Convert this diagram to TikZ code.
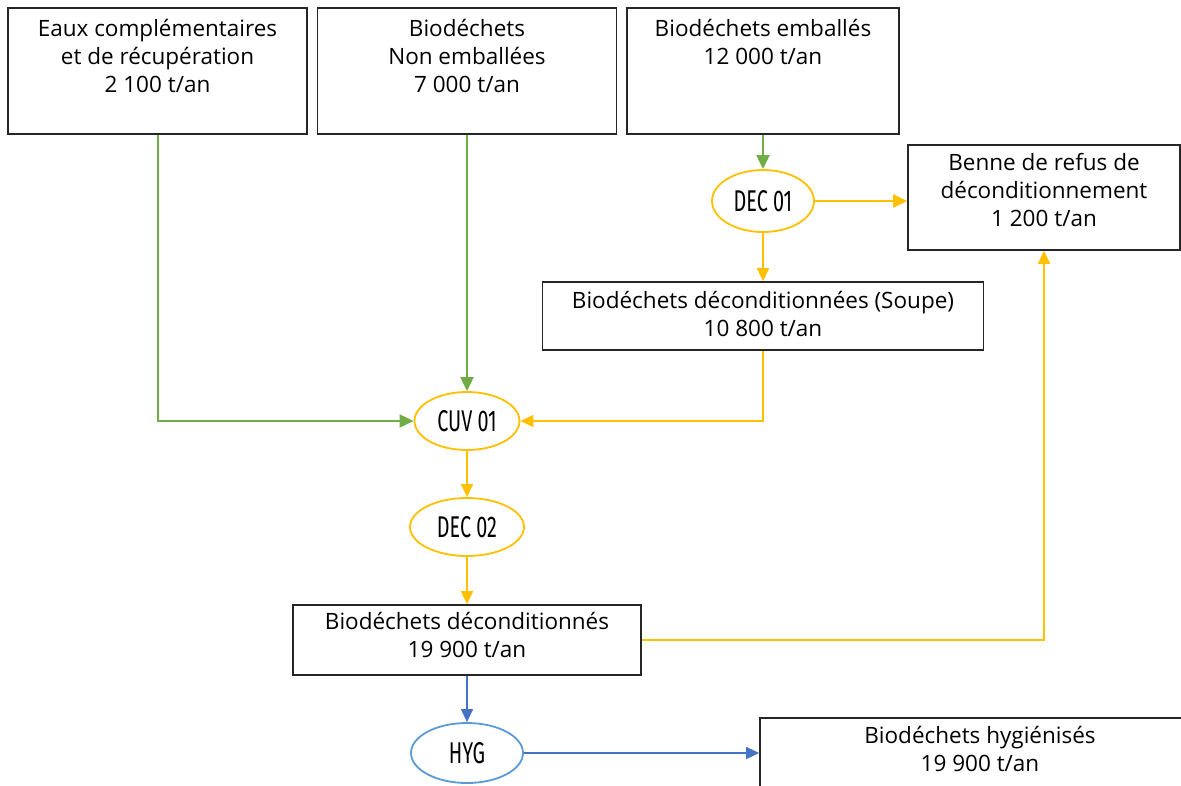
\documentclass[tikz,border=0pt]{standalone}
\usepackage{fontspec}
\setmainfont{Open Sans}
\newfontfamily\ellfont[FakeStretch=0.66]{Fira Sans}
\usetikzlibrary{shapes.geometric,arrows.meta}
\definecolor{cgreen}{HTML}{70AD47}
\definecolor{corange}{HTML}{FFC000}
\definecolor{cblue}{HTML}{4472C4}
\definecolor{clblue}{HTML}{5B9BD5}
\tikzset{
  box/.style={draw=black!85, line width=1.6pt, rectangle, inner sep=0pt},
  txt/.style={anchor=north, align=center, inner sep=0pt, font=\fontsize{22.5}{28}\selectfont},
  proc/.style={ellipse, line width=1.8pt, inner sep=0pt, fill=white, font=\ellfont\fontsize{30}{30}\selectfont},
  garr/.style={draw=cgreen, line width=2pt, -{Triangle[length=14pt,width=13pt]}},
  oarr/.style={draw=corange, line width=1.4pt, -{Triangle[length=13pt,width=12pt]}},
  obarr/.style={draw=corange, line width=2pt, -{Triangle[length=14pt,width=13pt]}},
  barr/.style={draw=cblue, line width=1.3pt, -{Triangle[length=13pt,width=12pt]}},
}
\begin{document}
\begin{tikzpicture}[x=1pt,y=-1pt]
\useasboundingbox (0,0) rectangle (1181,785);
% boxes
\node[box, minimum width=299pt, minimum height=126pt] (b1) at (157.5,71) {};
\node[box, minimum width=299pt, minimum height=126pt] (b2) at (467,71) {};
\node[box, minimum width=272pt, minimum height=126pt] (b3) at (763,71) {};
\node[box, minimum width=272pt, minimum height=105pt] (benne) at (1044,197.5) {};
\node[box, minimum width=441pt, minimum height=68pt] (soupe) at (763,316) {};
\node[box, minimum width=348pt, minimum height=70pt] (b4) at (467,640) {};
\node[box, minimum width=440pt, minimum height=90pt] (fin) at (980,763) {};
% texts
\node[txt] (b1t) at (157.5,19) {Eaux complémentaires\\et de récupération\\2 100 t/an};
\node[txt] (b2t) at (467,19) {Biodéchets\\Non emballées\\7 000 t/an};
\node[txt] (b3t) at (763,19) {Biodéchets emballés\\12 000 t/an};
\node[txt] (bennet) at (1044,153) {Benne de refus de\\déconditionnement\\1 200 t/an};
\node[txt] (soupet) at (763,291) {Biodéchets déconditionnées (Soupe)\\10 800 t/an};
\node[txt] (b4t) at (467,612) {Biodéchets déconditionnés\\19 900 t/an};
\node[txt] (fint) at (980,726) {Biodéchets hygiénisés\\19 900 t/an};
% process ellipses
\node[proc, draw=corange, minimum width=102pt, minimum height=62pt] (dec1) at (763,201) {DEC 01};
\node[proc, draw=corange, minimum width=105pt, minimum height=58pt] (cuv) at (467,421) {CUV 01};
\node[proc, draw=corange, minimum width=114pt, minimum height=58pt] (dec2) at (467,527) {DEC 02};
\node[proc, draw=clblue, minimum width=112pt, minimum height=60pt] (hyg) at (467,753) {HYG};
% connectors
\draw[garr] (b1.south) |- (cuv.west);
\draw[garr] (b2.south) -- (cuv.north);
\draw[garr] (b3.south) -- (dec1.north);
\draw[obarr] (dec1.east) -- (dec1.east -| benne.west);
\draw[oarr] (dec1.south) -- (soupe.north);
\draw[oarr] (soupe.south) |- (cuv.east);
\draw[oarr] (cuv.south) -- (dec2.north);
\draw[oarr] (dec2.south) -- (b4.north);
\draw[oarr] (b4.east) -| (benne.south);
\draw[barr] (b4.south) -- (hyg.north);
\draw[barr] (hyg.east) -- (hyg.east -| fin.west);
\end{tikzpicture}
\end{document}
